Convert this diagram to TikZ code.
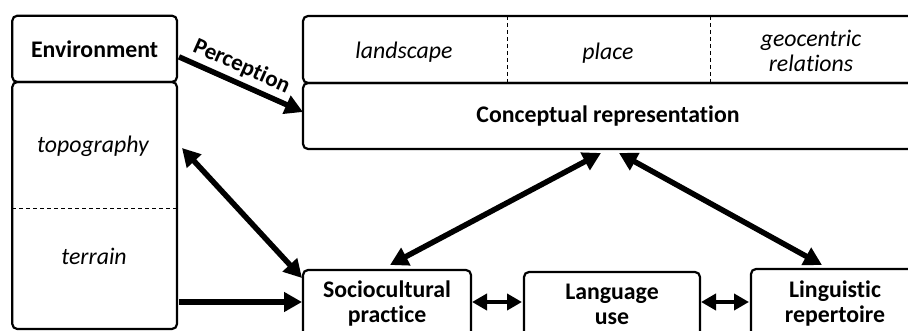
\documentclass[tikz,border=0pt]{standalone}
\usepackage{fontspec}
\setmainfont{Carlito}[Ligatures={TeX,NoCommon}]
\usetikzlibrary{arrows.meta,calc}
\tikzset{
  box/.style={draw, line width=2.2pt, rounded corners=5pt, inner sep=0pt, outer sep=0pt, align=center,
    font=\bfseries\fontsize{23.8}{25}\selectfont},
  itext/.style={font=\itshape\fontsize{23.8}{25}\selectfont, anchor=base, inner sep=0pt},
  bigarrow/.style={line width=5.5pt, -{Triangle[length=18pt,width=19pt]}},
  bigdarrow/.style={line width=5.5pt, {Triangle[length=18pt,width=19pt]}-{Triangle[length=18pt,width=19pt]}},
  smalldarrow/.style={line width=4pt, {Triangle[length=15pt,width=16pt]}-{Triangle[length=15pt,width=16pt]}},
  dashline/.style={line width=0.9pt, dash pattern=on 4pt off 3pt},
  perclabel/.style={font=\bfseries\fontsize{23}{25}\selectfont, inner sep=1pt},
}
\begin{document}
\begin{tikzpicture}[x=1pt,y=-1pt]
\useasboundingbox (0,0) rectangle (908,331);
\clip (0,0) rectangle (908,331);
% environment column
\node[box, minimum width=164.7pt, minimum height=66.3pt] (envhead) at (94.65,48.85) {Environment};
\node[box, minimum width=164.7pt, minimum height=247pt] (envcol) at (94.65,205.5) {};
\draw[dashline] ($(envcol.north west)+(0,126)$) -- ($(envcol.north east)+(0,126)$);
\node[itext] (topo) at (93,153) {topography};
\node[itext] (terr) at (94,265) {terrain};
% top boxes
\node[box, minimum width=610pt, minimum height=67pt] (topb) at (608,49.5) {};
\node[box, minimum width=610pt, minimum height=66pt] (conc) at (608,116) {Conceptual representation};
\draw[dashline] ($(topb.north west)+(204,0)$) -- ($(topb.south west)+(204,0)$);
\draw[dashline] ($(topb.north west)+(407,0)$) -- ($(topb.south west)+(407,0)$);
\node[itext] (land) at (404,59) {landscape};
\node[itext] (place) at (608,60) {place};
\node[itext] (geo) at (811,47) {geocentric};
\node[itext] (rel) at (811,72) {relations};
% bottom boxes
\node[box, minimum width=168pt, minimum height=68pt] (socio) at (387,304) {Sociocultural\\practice};
\node[box, minimum width=176pt, minimum height=64pt] (lang) at (612,304) {Language\\use};
\node[box, minimum width=168pt, minimum height=70pt] (ling) at (835,304) {Linguistic\\repertoire};
% connectors
\draw[bigarrow] ($(envhead.east)+(2,8)$) -- node[pos=0.45, sloped, above=3pt, perclabel] (perc) {Perception} ($(conc.west)+(0,-4)$);
\draw[bigdarrow] ($(envcol.east)+(5,-57.5)$) -- ($(socio.north west)+(-1,8)$);
\draw[bigarrow] ($(envcol.east)+(2,96.5)$) -- ($(socio.west)+(-1,-2)$);
\draw[smalldarrow] ($(socio.east)+(1,-2)$) -- ($(lang.west)+(-2,-2)$);
\draw[smalldarrow] ($(lang.east)+(1,-2)$) -- ($(ling.west)+(-2,-2)$);
\draw[bigdarrow] ($(conc.south)+(-7,4)$) -- ($(socio.north)+(3,-5)$);
\draw[bigdarrow] ($(conc.south)+(11,4)$) -- ($(ling.north)+(-13,-4)$);
\end{tikzpicture}
\end{document}
